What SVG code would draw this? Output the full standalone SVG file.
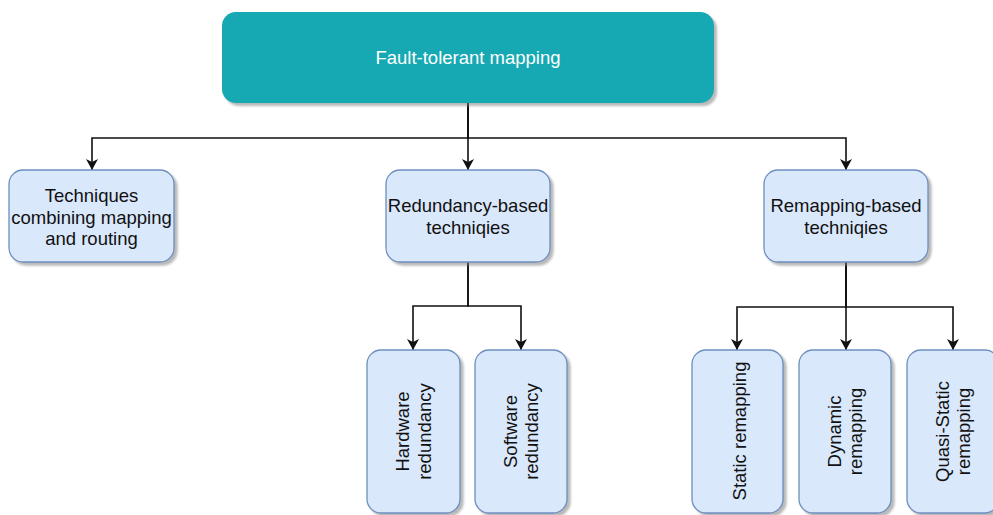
<svg xmlns="http://www.w3.org/2000/svg" width="993" height="515" viewBox="0 0 993 515">
<style>
.box{fill:#dae8fc;stroke:#6c8ebf;stroke-width:1.3;filter:url(#sh)}
.top{fill:#13a9b3;stroke:none;filter:url(#sh)}
.t{font-family:"Liberation Sans",Arial,sans-serif;font-size:18.5px;fill:#111;text-anchor:middle}
.tw{font-family:"Liberation Sans",Arial,sans-serif;font-size:18.5px;fill:#fff;text-anchor:middle}
.edge{fill:none;stroke:#111;stroke-width:1.6;marker-end:url(#arr)}
</style>
<defs>
<filter id="sh" x="-10%" y="-10%" width="130%" height="130%">
<feDropShadow dx="3" dy="3" stdDeviation="1" flood-color="#808080" flood-opacity="0.55"/>
</filter>
<marker id="arr" markerUnits="userSpaceOnUse" markerWidth="12" markerHeight="12" refX="11" refY="6" orient="auto">
<path d="M0,0 L11,6 L0,12 L3,6 z" fill="#111"/>
</marker>
</defs>
<rect width="993" height="515" fill="#fff"/>
<g id="connectors">
<path class="edge" d="M468,103 V138 H92 V170"/>
<path class="edge" d="M468,103 V170"/>
<path class="edge" d="M468,103 V138 H846 V170"/>
<path class="edge" d="M468,262 V306 H413 V350"/>
<path class="edge" d="M468,262 V306 H521 V350"/>
<path class="edge" d="M846,262 V307 H737 V350"/>
<path class="edge" d="M846,262 V350"/>
<path class="edge" d="M846,262 V307 H953 V350"/>
</g>
<g id="n-root">
<rect class="top" x="222" y="12" width="492" height="91" rx="14"/>
<text class="tw" x="468" y="64">Fault-tolerant mapping</text>
</g>
<g id="n-combining">
<rect class="box" x="9" y="170" width="165" height="92" rx="14"/>
<text class="t" x="91.5" y="202">Techniques</text>
<text class="t" x="91.5" y="223.5">combining mapping</text>
<text class="t" x="91.5" y="245">and routing</text>
</g>
<g id="n-redundancy">
<rect class="box" x="386" y="170" width="164" height="92" rx="14"/>
<text class="t" x="468" y="212">Redundancy-based</text>
<text class="t" x="468" y="233.5">techniqies</text>
</g>
<g id="n-remapping">
<rect class="box" x="764" y="170" width="164" height="92" rx="14"/>
<text class="t" x="846" y="212">Remapping-based</text>
<text class="t" x="846" y="233.5">techniqies</text>
</g>
<g id="n-hardware">
<rect class="box" x="367" y="350" width="93" height="163" rx="14"/>
<g transform="translate(413.5,431.5) rotate(-90)">
<text class="t" x="0" y="-4.3">Hardware</text>
<text class="t" x="0" y="17.3">redundancy</text>
</g>
</g>
<g id="n-software">
<rect class="box" x="475" y="350" width="92" height="163" rx="14"/>
<g transform="translate(521,431.5) rotate(-90)">
<text class="t" x="0" y="-4.3">Software</text>
<text class="t" x="0" y="17.3">redundancy</text>
</g>
</g>
<g id="n-static">
<rect class="box" x="692" y="350" width="91" height="163" rx="14"/>
<g transform="translate(739,431) rotate(-90)">
<text class="t" x="0" y="6.5">Static remapping</text>
</g>
</g>
<g id="n-dynamic">
<rect class="box" x="799" y="350" width="92" height="163" rx="14"/>
<g transform="translate(845,431.5) rotate(-90)">
<text class="t" x="0" y="-4.3">Dynamic</text>
<text class="t" x="0" y="17.3">remapping</text>
</g>
</g>
<g id="n-quasi">
<rect class="box" x="907" y="350" width="92" height="163" rx="14"/>
<g transform="translate(953,431.5) rotate(-90)">
<text class="t" x="0" y="-4.3">Quasi-Static</text>
<text class="t" x="0" y="17.3">remapping</text>
</g>
</g>
</svg>
